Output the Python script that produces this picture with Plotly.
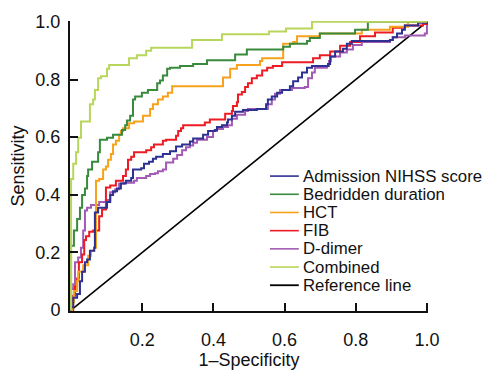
import plotly.graph_objects as go

# ---- data (FPR = 1-Specificity, TPR = Sensitivity), step vertices ----
names = ["Admission NIHSS score", "Bedridden duration", "HCT", "FIB", "D-dimer", "Combined", "Reference line"]
colors = ["#2e3192", "#3a8a3d", "#f7a21b", "#ec1c24", "#a25ab4", "#b9d65c", "#000000"]

nihss_fpr = [0, 0, 0.006, 0.017, 0.025, 0.031, 0.039, 0.045, 0.053, 0.065, 0.067, 0.076, 0.101, 0.110, 0.118, 0.129, 0.140, 0.154, 0.169, 0.174, 0.197, 0.205, 0.219, 0.230, 0.239, 0.258, 0.278, 0.295, 0.312, 0.334, 0.343, 0.371, 0.385, 0.404, 0.410, 0.424, 0.438, 0.441, 0.452, 0.461, 0.483, 0.522, 0.548, 0.553, 0.564, 0.579, 0.593, 0.615, 0.624, 0.638, 0.649, 0.663, 0.677, 0.722, 0.728, 0.742, 0.764, 0.775, 0.789, 0.896, 0.904, 0.916, 0.930, 0.938, 0.975, 1.0]
nihss_tpr = [0, 0.010, 0.043, 0.056, 0.100, 0.133, 0.166, 0.176, 0.206, 0.216, 0.339, 0.355, 0.375, 0.399, 0.412, 0.422, 0.439, 0.449, 0.458, 0.488, 0.492, 0.508, 0.515, 0.525, 0.532, 0.542, 0.551, 0.568, 0.575, 0.585, 0.595, 0.608, 0.621, 0.625, 0.635, 0.641, 0.651, 0.661, 0.674, 0.688, 0.694, 0.698, 0.714, 0.731, 0.741, 0.754, 0.764, 0.777, 0.794, 0.807, 0.824, 0.841, 0.847, 0.854, 0.880, 0.897, 0.907, 0.924, 0.934, 0.937, 0.947, 0.960, 0.973, 0.987, 0.997, 1.0]

bed_fpr = [0, 0, 0.008, 0.017, 0.025, 0.031, 0.039, 0.045, 0.048, 0.059, 0.076, 0.081, 0.101, 0.118, 0.143, 0.152, 0.157, 0.166, 0.174, 0.180, 0.199, 0.216, 0.242, 0.250, 0.258, 0.270, 0.278, 0.306, 0.343, 0.382, 0.461, 0.494, 0.596, 0.615, 0.663, 0.671, 0.699, 0.798, 0.834, 1.0]
bed_tpr = [0, 0.223, 0.276, 0.316, 0.355, 0.399, 0.422, 0.465, 0.488, 0.515, 0.548, 0.591, 0.598, 0.608, 0.625, 0.641, 0.658, 0.674, 0.731, 0.741, 0.754, 0.764, 0.787, 0.797, 0.814, 0.837, 0.841, 0.847, 0.854, 0.867, 0.887, 0.904, 0.914, 0.924, 0.934, 0.944, 0.960, 0.973, 1.0, 1.0]

hct_fpr = [0, 0.003, 0.008, 0.017, 0.020, 0.034, 0.048, 0.056, 0.065, 0.070, 0.070, 0.079, 0.090, 0.098, 0.104, 0.112, 0.118, 0.126, 0.135, 0.140, 0.146, 0.163, 0.177, 0.202, 0.222, 0.230, 0.244, 0.258, 0.272, 0.284, 0.427, 0.447, 0.466, 0.531, 0.537, 0.596, 0.624, 0.635, 0.699, 0.817, 0.896, 0.947, 1.0]
hct_tpr = [0, 0.027, 0.066, 0.100, 0.133, 0.156, 0.189, 0.206, 0.216, 0.266, 0.449, 0.455, 0.488, 0.498, 0.522, 0.542, 0.575, 0.588, 0.608, 0.621, 0.631, 0.648, 0.654, 0.674, 0.698, 0.714, 0.731, 0.741, 0.754, 0.777, 0.807, 0.837, 0.850, 0.864, 0.874, 0.924, 0.930, 0.950, 0.960, 0.973, 0.983, 1.0, 1.0]

fib_fpr = [0, 0.006, 0.011, 0.017, 0.022, 0.031, 0.037, 0.042, 0.051, 0.062, 0.079, 0.087, 0.098, 0.110, 0.126, 0.146, 0.154, 0.160, 0.169, 0.177, 0.211, 0.225, 0.233, 0.258, 0.267, 0.295, 0.301, 0.309, 0.315, 0.376, 0.390, 0.433, 0.452, 0.455, 0.466, 0.469, 0.480, 0.489, 0.497, 0.508, 0.522, 0.537, 0.551, 0.567, 0.593, 0.680, 0.699, 0.728, 0.756, 0.784, 0.812, 0.854, 0.904, 0.938, 0.989, 1.0]
fib_tpr = [0, 0.050, 0.083, 0.110, 0.166, 0.193, 0.243, 0.256, 0.272, 0.276, 0.326, 0.349, 0.425, 0.432, 0.449, 0.465, 0.488, 0.522, 0.532, 0.548, 0.555, 0.565, 0.575, 0.588, 0.591, 0.605, 0.621, 0.631, 0.641, 0.651, 0.661, 0.681, 0.691, 0.708, 0.721, 0.748, 0.757, 0.774, 0.787, 0.804, 0.814, 0.831, 0.841, 0.847, 0.860, 0.874, 0.884, 0.897, 0.917, 0.930, 0.950, 0.963, 0.980, 0.987, 0.993, 1.0]

dd_fpr = [0, 0, 0.006, 0.011, 0.020, 0.028, 0.034, 0.039, 0.045, 0.056, 0.079, 0.098, 0.110, 0.124, 0.135, 0.149, 0.177, 0.185, 0.211, 0.222, 0.236, 0.244, 0.258, 0.267, 0.287, 0.298, 0.312, 0.323, 0.334, 0.343, 0.354, 0.382, 0.399, 0.410, 0.427, 0.441, 0.452, 0.466, 0.489, 0.497, 0.553, 0.564, 0.573, 0.587, 0.621, 0.657, 0.666, 0.677, 0.685, 0.719, 0.725, 0.730, 0.756, 0.775, 0.792, 0.817, 0.896, 0.904, 0.938, 0.994, 1.0]
dd_tpr = [0, 0.073, 0.090, 0.166, 0.183, 0.216, 0.276, 0.346, 0.355, 0.365, 0.375, 0.382, 0.409, 0.419, 0.439, 0.442, 0.449, 0.458, 0.465, 0.472, 0.475, 0.482, 0.488, 0.512, 0.525, 0.538, 0.555, 0.565, 0.571, 0.581, 0.591, 0.601, 0.621, 0.628, 0.635, 0.641, 0.664, 0.678, 0.691, 0.698, 0.714, 0.731, 0.751, 0.764, 0.771, 0.774, 0.804, 0.824, 0.841, 0.847, 0.864, 0.880, 0.894, 0.904, 0.920, 0.930, 0.937, 0.947, 0.953, 0.960, 1.0]

comb_fpr = [0, 0, 0.006, 0.014, 0.020, 0.028, 0.053, 0.062, 0.067, 0.076, 0.084, 0.101, 0.107, 0.163, 0.185, 0.211, 0.225, 0.340, 0.424, 0.556, 0.604, 0.677, 1.0]
comb_tpr = [0, 0.455, 0.508, 0.548, 0.598, 0.654, 0.714, 0.731, 0.764, 0.804, 0.811, 0.837, 0.850, 0.874, 0.884, 0.900, 0.910, 0.937, 0.957, 0.967, 0.977, 1.0, 1.0]

ref_fpr = [0, 1]
ref_tpr = [0, 1]

x_ticks = [0.2, 0.4, 0.6, 0.8, 1.0]
x_ticktext = ["0.2", "0.4", "0.6", "0.8", "1.0"]
y_ticks = [0, 0.2, 0.4, 0.6, 0.8, 1.0]
y_ticktext = ["0", "0.2", "0.4", "0.6", "0.8", "1.0"]

series_x = [nihss_fpr, bed_fpr, hct_fpr, fib_fpr, dd_fpr, comb_fpr, ref_fpr]
series_y = [nihss_tpr, bed_tpr, hct_tpr, fib_tpr, dd_tpr, comb_tpr, ref_tpr]

FONT = "Liberation Sans, Arial, Helvetica, sans-serif"
W, H = 503, 374
L, R, T, B = 70, 75, 18, 53

fig = go.Figure()
# draw reference first (underneath), then curves
order = [6, 4, 3, 2, 1, 0, 5]
for i in order:
    fig.add_trace(go.Scatter(
        x=series_x[i], y=series_y[i], mode="lines", name=names[i],
        line=dict(color=colors[i], width=2 if i != 6 else 1.6,
                  shape="hv" if i != 6 else "linear"),
        showlegend=False, hoverinfo="skip"))

# manual legend (entries listed in order)
leg_x0, leg_x1, leg_tx = 0.559, 0.640, 0.650
leg_y0, leg_dy = 0.465, 0.0631
for k, nm in enumerate(names):
    yy = leg_y0 - k * leg_dy
    fig.add_shape(type="line", xref="x", yref="y", x0=leg_x0, x1=leg_x1, y0=yy, y1=yy,
                  line=dict(color=colors[k], width=1.6 if k < 6 else 1.8))
    fig.add_annotation(xref="x", yref="y", x=leg_tx, y=yy, text=nm, showarrow=False,
                       xanchor="left", yanchor="middle", borderpad=0,
                       font=dict(family=FONT, size=16.8, color="#111111"))

axis_common = dict(showline=True, linecolor="#111111", linewidth=2, ticks="inside",
                   ticklen=8, tickwidth=2, tickcolor="#111111", showgrid=False,
                   zeroline=False, tickfont=dict(family=FONT, size=18, color="#111111"))

fig.update_layout(
    width=W, height=H, margin=dict(l=L, r=R, t=T, b=B),
    paper_bgcolor="white", plot_bgcolor="white",
    xaxis=dict(range=[-0.003, 1.003], tickvals=x_ticks, ticktext=x_ticktext,
               title=dict(text="1–Specificity", font=dict(family=FONT, size=18, color="#111111"), standoff=0),
               ticklabelstandoff=11, **axis_common),
    yaxis=dict(range=[-0.003, 1.003], tickvals=y_ticks, ticktext=y_ticktext,
               title=dict(text="Sensitivity", font=dict(family=FONT, size=18, color="#111111"), standoff=6),
               ticklabelstandoff=4, **axis_common),
)

fig.write_html("out.html")
